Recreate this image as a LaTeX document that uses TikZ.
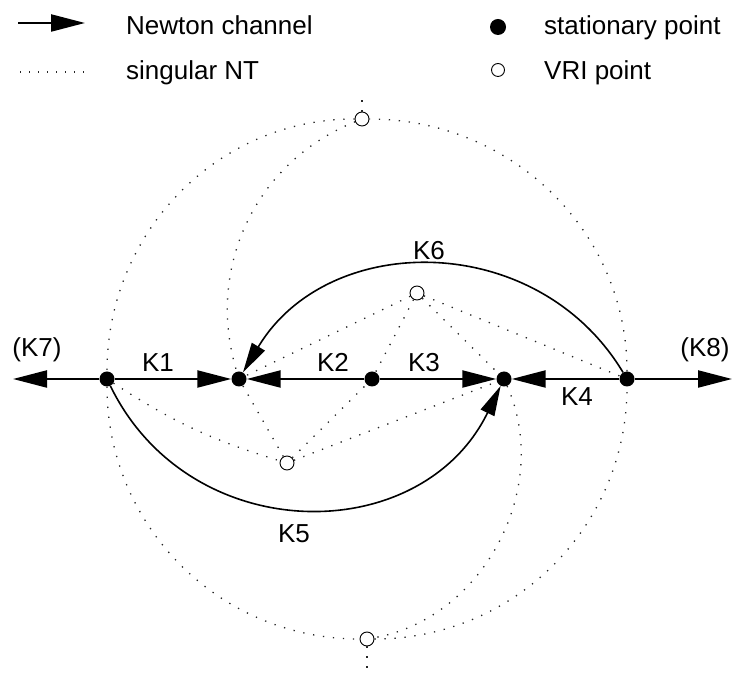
\documentclass[tikz,border=0pt]{standalone}
\usepackage{fontspec}
\setmainfont{Liberation Sans}
\usetikzlibrary{arrows.meta}
\begin{document}
\begin{tikzpicture}[x=1pt,y=1pt,
  every node/.style={font=\fontsize{26}{31}\selectfont, inner sep=0pt},
  stat/.style={circle,fill=black,minimum size=15pt,inner sep=0pt},
  vri/.style={circle,draw=black,fill=white,line width=0.9pt,minimum size=14pt,inner sep=0pt},
  chan/.style={line width=2.2pt,-{Triangle[length=34pt,width=17pt]}},
  arcchan/.style={line width=1.6pt,-{Triangle[length=30pt,width=15pt]}},
  sing/.style={line width=1.3pt,black!85,dash pattern=on 1.3pt off 8.7pt},
  legsing/.style={line width=1.3pt,black!85,dash pattern=on 1.3pt off 7.7pt},
  lab/.style={anchor=base}
]
\useasboundingbox (0,0) rectangle (735,682);

% stationary points
\node[stat] (sA) at (107,303) {};
\node[stat] (sB) at (239,303) {};
\node[stat] (sC) at (372,303) {};
\node[stat] (sD) at (504,303) {};
\node[stat] (sE) at (627,303) {};
% VRI points
\node[vri] (vT) at (362,563) {};
\node[vri] (vU) at (417,389) {};
\node[vri] (vL) at (287,219) {};
\node[vri] (vB) at (367,43) {};
\coordinate (tT) at (362,589);
\coordinate (tB) at (367,8);
\coordinate (eL) at (13,303);
\coordinate (eR) at (732,303);

% singular NT (dotted)
\draw[sing] (vT) to[out=180,in=90] (sA);
\draw[sing] (sA) to[out=270,in=180] (vB);
\draw[sing] (vB) to[out=0,in=270] (sE);
\draw[sing] (sE) to[out=90,in=0] (vT);
\draw[sing] (vT) to[out=202,in=107] (sB);
\draw[sing] (sD) to[out=294,in=10] (vB);
\draw[sing] (vT) -- (tT);
\draw[sing] (vB) -- (tB);
\draw[sing] (vU) -- (sB);
\draw[sing] (vU) -- (sC);
\draw[sing] (vU) -- (sD);
\draw[sing] (vU) -- (sE);
\draw[sing] (sA) to[bend right=8] (vL);
\draw[sing] (vL) -- (sB);
\draw[sing] (vL) -- (sC);
\draw[sing] (vL) -- (sD);

% Newton channels
\draw[chan] (sA) -- (eL);
\draw[chan] (sA) -- (sB);
\draw[chan] (sC) -- (sB);
\draw[chan] (sC) -- (sD);
\draw[chan] (sE) -- (sD);
\draw[chan] (sE) -- (eR);
\draw[arcchan] (sE) to[out=121,in=59,looseness=1.12] (sB);
\draw[arcchan] (sA) to[out=296,in=244,looseness=1.19] (sD);

% labels
\node[lab] (k1) at (158,310) {K1};
\node[lab] (k2) at (333,310) {K2};
\node[lab] (k3) at (424,310) {K3};
\node[lab] (k4) at (577,276) {K4};
\node[lab] (k5) at (294,139) {K5};
\node[lab] (k6) at (429,422) {K6};
\node[lab] (k7) at (37,325) {(K7)};
\node[lab] (k8) at (705,325) {(K8)};

% legend
\coordinate (la1) at (18,659);
\coordinate (la2) at (85,659);
\draw[chan] (la1) -- (la2);
\node[anchor=base west] (t1) at (126,647) {Newton channel};
\coordinate (ld1) at (20,610);
\coordinate (ld2) at (84,610);
\draw[legsing] (ld1) -- (ld2);
\node[anchor=base west] (t2) at (126,602) {singular NT};
\node[stat,minimum size=16pt] (lstat) at (498,655) {};
\node[anchor=base west] (t3) at (544,647) {stationary point};
\node[vri,minimum size=13pt] (lvri) at (498,612) {};
\node[anchor=base west] (t4) at (544,602) {VRI point};
\end{tikzpicture}
\end{document}
